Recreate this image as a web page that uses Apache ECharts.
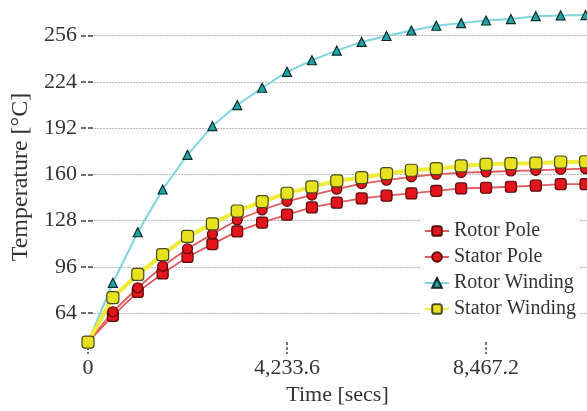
<!DOCTYPE html>
<html>
<head>
<meta charset="utf-8">
<script src="https://cdn.jsdelivr.net/npm/echarts@6/dist/echarts.min.js"></script>
<style>
html,body{margin:0;padding:0;background:#fff;}
#chart{width:587px;height:411px;}
</style>
</head>
<body>
<div id="chart"></div>
<script>
// Time points [secs]
var times = [0, 529.2, 1058.4, 1587.6, 2116.8, 2646, 3175.2, 3704.4, 4233.6, 4762.8, 5292, 5821.2, 6350.4, 6879.6, 7408.8, 7938, 8467.2, 8996.4, 9525.6, 10054.8, 10584];
// Temperatures [°C]
var rotorPole = [44, 62.2, 78.7, 91.5, 102.9, 111.8, 120.6, 126.7, 132.2, 137.2, 140.5, 143.4, 145.3, 146.9, 148.7, 150.3, 150.8, 151.5, 152.2, 153.3, 153.3];
var statorPole = [44, 65, 81.6, 96.5, 108.6, 118.7, 128.5, 135.4, 141.4, 145.7, 149.8, 153.7, 156, 158.3, 160.1, 161.3, 161.7, 162.4, 162.8, 163.5, 164];
var rotorWinding = [44, 85, 120, 149.6, 173.6, 193.5, 208, 220, 231, 239, 245.7, 251.7, 255.8, 259.6, 262.9, 264.7, 266.5, 267.5, 269.5, 270, 270.3];
var statorWinding = [44, 74.8, 90.8, 104.5, 117.1, 125.8, 134.7, 141.2, 147, 151.4, 155.6, 157.8, 160.6, 162.9, 164, 165.9, 167, 167.5, 167.8, 168.6, 168.8];
// Tick labels
var xTicks = [0, 4233.6, 8467.2];
var yTicks = [64, 96, 128, 160, 192, 224, 256];
var seriesNames = ['Rotor Pole', 'Stator Pole', 'Rotor Winding', 'Stator Winding'];

function pairs(vals) {
  return times.map(function (t, i) { return [t, vals[i]]; });
}

var font = 'Liberation Serif';
var chart = echarts.init(document.getElementById('chart'), null, {renderer: 'canvas'});
chart.setOption({
  backgroundColor: '#fff',
  animation: false,
  grid: {left: 88, right: 0, top: 0, bottom: 66, containLabel: false},
  legend: {
    orient: 'vertical',
    left: 420,
    top: 219,
    backgroundColor: '#fff',
    padding: [2, 4, 2, 4],
    itemGap: 6,
    itemWidth: 24,
    itemHeight: 12,
    textStyle: {fontFamily: font, fontSize: 20, color: '#333'},
    data: seriesNames
  },
  xAxis: {
    type: 'value',
    min: 0,
    max: 10615,
    axisLine: {show: false},
    axisTick: {show: true, length: 12, customValues: xTicks, lineStyle: {color: '#444', width: 1.5, type: [3, 2]}},
    splitLine: {show: false},
    axisLabel: {
      customValues: xTicks,
      margin: 15,
      fontFamily: font, fontSize: 22, color: '#333',
      formatter: function (v) { return Number(v).toLocaleString('en-US', {maximumFractionDigits: 1}); }
    },
    name: 'Time [secs]',
    nameLocation: 'middle',
    nameGap: 37,
    nameTextStyle: {fontFamily: font, fontSize: 22, color: '#333'}
  },
  yAxis: {
    type: 'value',
    min: 44,
    max: 280.7,
    offset: -5,
    axisLine: {show: false},
    axisTick: {show: true, length: 13, customValues: yTicks, lineStyle: {color: '#444', width: 1.5, type: [5, 2]}},
    splitLine: {show: true, lineStyle: {color: '#b8b8b8', width: 1, type: [2, 1]}},
    axisLabel: {customValues: yTicks, margin: 16, fontFamily: font, fontSize: 22, color: '#333'},
    name: 'Temperature [°C]',
    nameLocation: 'middle',
    nameGap: 54,
    nameTextStyle: {fontFamily: font, fontSize: 24, color: '#333', padding: [0, 12, 0, 0]}
  },
  series: [
    {
      name: seriesNames[0], type: 'line', data: pairs(rotorPole), clip: false,
      symbol: 'roundRect', symbolSize: 11,
      lineStyle: {color: '#e05a5e', width: 1.8},
      itemStyle: {color: '#e3141c', borderColor: '#5a0a0a', borderWidth: 1.2}
    },
    {
      name: seriesNames[1], type: 'line', data: pairs(statorPole), clip: false,
      symbol: 'circle', symbolSize: 10,
      lineStyle: {color: '#e05a5e', width: 1.8},
      itemStyle: {color: '#e3141c', borderColor: '#5a0a0a', borderWidth: 1.2}
    },
    {
      name: seriesNames[2], type: 'line', data: pairs(rotorWinding), clip: false,
      symbol: 'triangle', symbolSize: 9,
      lineStyle: {color: '#7dd4e0', width: 2},
      itemStyle: {color: '#1ea5a5', borderColor: '#0a2a2a', borderWidth: 1.2}
    },
    {
      name: seriesNames[3], type: 'line', data: pairs(statorWinding), clip: false,
      symbol: 'roundRect', symbolSize: 12,
      lineStyle: {color: '#f0ec3a', width: 4},
      itemStyle: {color: '#e8e21e', borderColor: '#4a4a20', borderWidth: 1.2}
    }
  ]
});
</script>
</body>
</html>
